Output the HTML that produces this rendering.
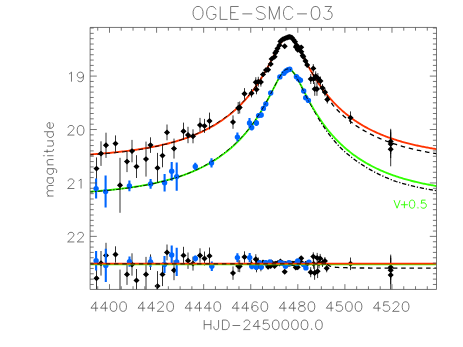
<!DOCTYPE html>
<html><head><meta charset="utf-8"><title>OGLE-SMC-03</title>
<style>html,body{margin:0;padding:0;background:#fff;font-family:"Liberation Sans",sans-serif}svg{display:block}</style>
</head><body>
<svg width="463" height="347" viewBox="0 0 463 347">
<rect width="463" height="347" fill="#fff"/>
<defs><clipPath id="c"><rect x="90.12" y="27.45" width="346.38" height="262.0"/></clipPath></defs>
<g clip-path="url(#c)">
<path d="M89.1 191.76 L90.1 191.68 L91.1 191.61 L92.1 191.53 L93.1 191.45 L94.1 191.37 L95.1 191.29 L96.1 191.21 L97.1 191.13 L98.1 191.05 L99.1 190.96 L100.1 190.88 L101.1 190.79 L102.1 190.70 L103.1 190.61 L104.1 190.52 L105.1 190.42 L106.1 190.33 L107.1 190.23 L108.1 190.13 L109.1 190.03 L110.1 189.93 L111.1 189.83 L112.1 189.72 L113.1 189.62 L114.1 189.51 L115.1 189.40 L116.1 189.29 L117.1 189.17 L118.1 189.06 L119.1 188.94 L120.1 188.82 L121.1 188.70 L122.1 188.57 L123.1 188.45 L124.1 188.32 L125.1 188.19 L126.1 188.06 L127.1 187.93 L128.1 187.79 L129.1 187.65 L130.1 187.51 L131.1 187.37 L132.1 187.22 L133.1 187.07 L134.1 186.92 L135.1 186.77 L136.1 186.61 L137.1 186.46 L138.1 186.29 L139.1 186.13 L140.1 185.96 L141.1 185.80 L142.1 185.62 L143.1 185.45 L144.1 185.27 L145.1 185.09 L146.1 184.90 L147.1 184.72 L148.1 184.53 L149.1 184.33 L150.1 184.13 L151.1 183.93 L152.1 183.73 L153.1 183.52 L154.1 183.31 L155.1 183.09 L156.1 182.88 L157.1 182.65 L158.1 182.43 L159.1 182.20 L160.1 181.96 L161.1 181.72 L162.1 181.48 L163.1 181.23 L164.1 180.98 L165.1 180.73 L166.1 180.47 L167.1 180.20 L168.1 179.93 L169.1 179.66 L170.1 179.38 L171.1 179.09 L172.1 178.80 L173.1 178.51 L174.1 178.21 L175.1 177.91 L176.1 177.60 L177.1 177.28 L178.1 176.96 L179.1 176.63 L180.1 176.30 L181.1 175.96 L182.1 175.61 L183.1 175.26 L184.1 174.91 L185.1 174.54 L186.1 174.17 L187.1 173.79 L188.1 173.41 L189.1 173.02 L190.1 172.62 L191.1 172.22 L192.1 171.80 L193.1 171.38 L194.1 170.96 L195.1 170.52 L196.1 170.08 L197.1 169.62 L198.1 169.16 L199.1 168.70 L200.1 168.22 L201.1 167.73 L202.1 167.24 L203.1 166.73 L204.1 166.22 L205.1 165.70 L206.1 165.16 L207.1 164.62 L208.1 164.07 L209.1 163.50 L210.1 162.93 L211.1 162.34 L212.1 161.75 L213.1 161.14 L214.1 160.52 L215.1 159.89 L216.1 159.25 L217.1 158.59 L218.1 157.92 L219.1 157.24 L220.1 156.55 L221.1 155.84 L222.1 155.12 L223.1 154.38 L224.1 153.63 L225.1 152.87 L226.1 152.09 L227.1 151.29 L228.1 150.48 L229.1 149.65 L230.1 148.81 L231.1 147.95 L232.1 147.07 L233.1 146.17 L234.1 145.26 L235.1 144.32 L236.1 143.37 L237.1 142.40 L238.1 141.40 L239.1 140.39 L240.1 139.35 L241.1 138.30 L242.1 137.21 L243.1 136.11 L244.1 134.98 L245.1 133.83 L246.1 132.65 L247.1 131.45 L248.1 130.22 L249.1 128.97 L250.1 127.68 L251.1 126.37 L252.1 125.03 L253.1 123.65 L254.1 122.25 L255.1 120.82 L256.1 119.35 L257.1 117.85 L258.1 116.32 L259.1 114.75 L260.1 113.15 L261.1 111.51 L262.1 109.84 L263.1 108.14 L264.1 106.40 L265.1 104.62 L266.1 102.81 L267.1 100.97 L268.1 99.10 L269.1 97.20 L270.1 95.28 L271.1 93.34 L272.1 91.38 L273.1 89.41 L274.1 87.44 L275.1 85.48 L276.1 83.54 L277.1 81.64 L278.1 79.79 L279.1 78.00 L280.1 76.31 L281.1 74.74 L282.1 73.30 L283.1 72.03 L284.1 70.94 L285.1 70.07 L286.1 69.43 L287.1 69.05 L288.1 68.92 L289.1 69.05 L290.1 69.45 L291.1 70.09 L292.1 70.96 L293.1 72.05 L294.1 73.33 L295.1 74.77 L296.1 76.35 L297.1 78.04 L298.1 79.83 L299.1 81.68 L300.1 83.59 L301.1 85.52 L302.1 87.48 L303.1 89.45 L304.1 91.42 L305.1 93.38 L306.1 95.32 L307.1 97.25 L308.1 99.15 L309.1 101.02 L310.1 102.86 L311.1 104.66 L312.1 106.44 L313.1 108.18 L314.1 109.88 L315.1 111.55 L316.1 113.19 L317.1 114.79 L318.1 116.35 L319.1 117.88 L320.1 119.38 L321.1 120.85 L322.1 122.28 L323.1 123.68 L324.1 125.06 L325.1 126.40 L326.1 127.71 L327.1 128.99 L328.1 130.25 L329.1 131.48 L330.1 132.68 L331.1 133.86 L332.1 135.01 L333.1 136.14 L334.1 137.24 L335.1 138.32 L336.1 139.38 L337.1 140.41 L338.1 141.43 L339.1 142.42 L340.1 143.39 L341.1 144.35 L342.1 145.28 L343.1 146.19 L344.1 147.09 L345.1 147.97 L346.1 148.83 L347.1 149.67 L348.1 150.50 L349.1 151.31 L350.1 152.11 L351.1 152.89 L352.1 153.65 L353.1 154.40 L354.1 155.14 L355.1 155.86 L356.1 156.56 L357.1 157.26 L358.1 157.94 L359.1 158.61 L360.1 159.26 L361.1 159.90 L362.1 160.53 L363.1 161.15 L364.1 161.76 L365.1 162.36 L366.1 162.94 L367.1 163.52 L368.1 164.08 L369.1 164.63 L370.1 165.17 L371.1 165.71 L372.1 166.23 L373.1 166.74 L374.1 167.25 L375.1 167.74 L376.1 168.23 L377.1 168.71 L378.1 169.17 L379.1 169.63 L380.1 170.09 L381.1 170.53 L382.1 170.97 L383.1 171.39 L384.1 171.81 L385.1 172.23 L386.1 172.63 L387.1 173.03 L388.1 173.42 L389.1 173.80 L390.1 174.18 L391.1 174.55 L392.1 174.91 L393.1 175.27 L394.1 175.62 L395.1 175.97 L396.1 176.31 L397.1 176.64 L398.1 176.97 L399.1 177.29 L400.1 177.60 L401.1 177.91 L402.1 178.22 L403.1 178.52 L404.1 178.81 L405.1 179.10 L406.1 179.38 L407.1 179.66 L408.1 179.94 L409.1 180.21 L410.1 180.47 L411.1 180.73 L412.1 180.99 L413.1 181.24 L414.1 181.49 L415.1 181.73 L416.1 181.97 L417.1 182.20 L418.1 182.43 L419.1 182.66 L420.1 182.88 L421.1 183.10 L422.1 183.31 L423.1 183.53 L424.1 183.73 L425.1 183.94 L426.1 184.14 L427.1 184.34 L428.1 184.53 L429.1 184.72 L430.1 184.91 L431.1 185.09 L432.1 185.27 L433.1 185.45 L434.1 185.63 L435.1 185.80 L436.1 185.97 L437.1 186.13" stroke="#30ff00" stroke-width="1.85" fill="none"/>
<path d="M89.1 154.51 L90.1 154.44 L91.1 154.37 L92.1 154.30 L93.1 154.23 L94.1 154.15 L95.1 154.08 L96.1 154.00 L97.1 153.92 L98.1 153.85 L99.1 153.77 L100.1 153.69 L101.1 153.60 L102.1 153.52 L103.1 153.44 L104.1 153.35 L105.1 153.26 L106.1 153.17 L107.1 153.08 L108.1 152.99 L109.1 152.90 L110.1 152.80 L111.1 152.71 L112.1 152.61 L113.1 152.51 L114.1 152.41 L115.1 152.30 L116.1 152.20 L117.1 152.09 L118.1 151.99 L119.1 151.88 L120.1 151.76 L121.1 151.65 L122.1 151.54 L123.1 151.42 L124.1 151.30 L125.1 151.18 L126.1 151.06 L127.1 150.93 L128.1 150.80 L129.1 150.67 L130.1 150.54 L131.1 150.41 L132.1 150.27 L133.1 150.14 L134.1 149.99 L135.1 149.85 L136.1 149.71 L137.1 149.56 L138.1 149.41 L139.1 149.26 L140.1 149.10 L141.1 148.94 L142.1 148.78 L143.1 148.62 L144.1 148.45 L145.1 148.28 L146.1 148.11 L147.1 147.94 L148.1 147.76 L149.1 147.58 L150.1 147.40 L151.1 147.21 L152.1 147.02 L153.1 146.82 L154.1 146.63 L155.1 146.43 L156.1 146.22 L157.1 146.02 L158.1 145.80 L159.1 145.59 L160.1 145.37 L161.1 145.15 L162.1 144.92 L163.1 144.69 L164.1 144.46 L165.1 144.22 L166.1 143.98 L167.1 143.73 L168.1 143.48 L169.1 143.23 L170.1 142.97 L171.1 142.70 L172.1 142.43 L173.1 142.16 L174.1 141.88 L175.1 141.59 L176.1 141.31 L177.1 141.01 L178.1 140.71 L179.1 140.41 L180.1 140.10 L181.1 139.78 L182.1 139.46 L183.1 139.13 L184.1 138.80 L185.1 138.46 L186.1 138.11 L187.1 137.76 L188.1 137.40 L189.1 137.04 L190.1 136.67 L191.1 136.29 L192.1 135.90 L193.1 135.51 L194.1 135.11 L195.1 134.70 L196.1 134.29 L197.1 133.86 L198.1 133.43 L199.1 133.00 L200.1 132.55 L201.1 132.09 L202.1 131.63 L203.1 131.16 L204.1 130.68 L205.1 130.19 L206.1 129.69 L207.1 129.18 L208.1 128.66 L209.1 128.13 L210.1 127.59 L211.1 127.04 L212.1 126.48 L213.1 125.91 L214.1 125.33 L215.1 124.74 L216.1 124.13 L217.1 123.52 L218.1 122.89 L219.1 122.25 L220.1 121.59 L221.1 120.92 L222.1 120.24 L223.1 119.55 L224.1 118.84 L225.1 118.12 L226.1 117.38 L227.1 116.63 L228.1 115.86 L229.1 115.08 L230.1 114.28 L231.1 113.47 L232.1 112.63 L233.1 111.78 L234.1 110.91 L235.1 110.03 L236.1 109.12 L237.1 108.20 L238.1 107.25 L239.1 106.29 L240.1 105.30 L241.1 104.29 L242.1 103.26 L243.1 102.21 L244.1 101.13 L245.1 100.03 L246.1 98.91 L247.1 97.76 L248.1 96.58 L249.1 95.38 L250.1 94.15 L251.1 92.89 L252.1 91.60 L253.1 90.28 L254.1 88.93 L255.1 87.55 L256.1 86.14 L257.1 84.70 L258.1 83.22 L259.1 81.71 L260.1 80.16 L261.1 78.58 L262.1 76.96 L263.1 75.31 L264.1 73.62 L265.1 71.90 L266.1 70.15 L267.1 68.36 L268.1 66.54 L269.1 64.69 L270.1 62.81 L271.1 60.91 L272.1 59.00 L273.1 57.07 L274.1 55.14 L275.1 53.21 L276.1 51.30 L277.1 49.42 L278.1 47.59 L279.1 45.81 L280.1 44.13 L281.1 42.55 L282.1 41.10 L283.1 39.81 L284.1 38.70 L285.1 37.80 L286.1 37.12 L287.1 36.69 L288.1 36.51 L289.1 36.59 L290.1 36.93 L291.1 37.51 L292.1 38.33 L293.1 39.37 L294.1 40.59 L295.1 41.98 L296.1 43.51 L297.1 45.16 L298.1 46.90 L299.1 48.71 L300.1 50.58 L301.1 52.48 L302.1 54.40 L303.1 56.33 L304.1 58.26 L305.1 60.18 L306.1 62.09 L307.1 63.98 L308.1 65.84 L309.1 67.67 L310.1 69.47 L311.1 71.24 L312.1 72.97 L313.1 74.67 L314.1 76.34 L315.1 77.97 L316.1 79.56 L317.1 81.12 L318.1 82.65 L319.1 84.14 L320.1 85.59 L321.1 87.02 L322.1 88.41 L323.1 89.77 L324.1 91.10 L325.1 92.40 L326.1 93.67 L327.1 94.91 L328.1 96.13 L329.1 97.31 L330.1 98.47 L331.1 99.61 L332.1 100.72 L333.1 101.80 L334.1 102.86 L335.1 103.90 L336.1 104.92 L337.1 105.91 L338.1 106.89 L339.1 107.84 L340.1 108.77 L341.1 109.68 L342.1 110.58 L343.1 111.45 L344.1 112.31 L345.1 113.15 L346.1 113.97 L347.1 114.78 L348.1 115.57 L349.1 116.34 L350.1 117.10 L351.1 117.84 L352.1 118.57 L353.1 119.28 L354.1 119.98 L355.1 120.67 L356.1 121.34 L357.1 122.00 L358.1 122.64 L359.1 123.28 L360.1 123.90 L361.1 124.51 L362.1 125.11 L363.1 125.69 L364.1 126.27 L365.1 126.83 L366.1 127.38 L367.1 127.93 L368.1 128.46 L369.1 128.98 L370.1 129.49 L371.1 130.00 L372.1 130.49 L373.1 130.98 L374.1 131.45 L375.1 131.92 L376.1 132.38 L377.1 132.83 L378.1 133.27 L379.1 133.70 L380.1 134.13 L381.1 134.54 L382.1 134.95 L383.1 135.36 L384.1 135.75 L385.1 136.14 L386.1 136.52 L387.1 136.90 L388.1 137.26 L389.1 137.62 L390.1 137.98 L391.1 138.33 L392.1 138.67 L393.1 139.00 L394.1 139.33 L395.1 139.66 L396.1 139.98 L397.1 140.29 L398.1 140.60 L399.1 140.90 L400.1 141.19 L401.1 141.49 L402.1 141.77 L403.1 142.05 L404.1 142.33 L405.1 142.60 L406.1 142.87 L407.1 143.13 L408.1 143.38 L409.1 143.64 L410.1 143.89 L411.1 144.13 L412.1 144.37 L413.1 144.60 L414.1 144.84 L415.1 145.06 L416.1 145.29 L417.1 145.51 L418.1 145.72 L419.1 145.94 L420.1 146.14 L421.1 146.35 L422.1 146.55 L423.1 146.75 L424.1 146.94 L425.1 147.14 L426.1 147.32 L427.1 147.51 L428.1 147.69 L429.1 147.87 L430.1 148.05 L431.1 148.22 L432.1 148.39 L433.1 148.56 L434.1 148.72 L435.1 148.88 L436.1 149.04 L437.1 149.20" stroke="#ff3300" stroke-width="1.85" fill="none"/>
<path d="M96.50 157.4V179.8M101.00 141.3V165.9M106.00 132.7V157.9M115.50 135.4V151.8M120.00 157.8V212.8M127.00 151.1V172.1M132.00 139.9V162.3M136.50 155.2V178.0M146.00 141.6V176.6M150.50 137.3V152.9M157.50 152.9V182.9M162.50 143.9V167.3M167.00 124.5V140.3M174.00 138.6V158.6M183.50 122.6V139.8M188.00 126.8V143.2M193.00 129.3V143.3M200.00 117.9V132.3M204.50 118.9V132.9M209.50 112.6V129.4M233.00 115.4V128.8M238.20 102.0V114.0M239.70 101.5V113.5M244.50 88.1V99.5M251.50 89.0V97.4M256.50 84.7V94.3M255.80 77.2V87.2M258.30 76.8V86.8M260.90 77.6V86.6M263.00 71.9V76.9M266.00 67.6V72.6M268.10 67.2V72.2M270.70 62.1V66.1M271.60 56.9V60.9M274.60 55.2V58.2M280.40 40.1V43.1M281.20 39.0V42.0M282.60 38.0V41.0M284.20 37.3V40.3M285.70 36.6V39.6M287.20 36.0V39.0M288.50 35.6V38.6M289.40 35.4V38.4M290.70 35.6V38.6M292.00 36.3V39.3M293.50 38.3V41.3M295.00 40.2V43.2M284.70 44.8V47.8M275.20 51.6V54.6M276.30 49.8V52.8M277.50 46.9V49.9M279.50 43.7V46.7M295.80 45.4V48.4M296.60 43.8V46.8M297.70 48.4V51.4M299.20 46.4V49.4M301.20 45.8V48.8M301.30 50.3V53.3M302.70 54.0V57.0M303.30 54.7V58.7M305.50 58.5V63.5M307.20 61.9V67.9M313.30 64.1V72.7M310.75 74.0V84.0M313.50 74.0V84.0M315.70 71.3V81.3M317.85 73.1V83.1M320.45 76.5V85.5M314.75 82.2V95.8M316.95 82.2V95.8M322.50 84.0V92.0M325.00 88.3V96.3M327.30 95.5V103.5M350.50 111.4V124.0M390.70 128.8V154.0M390.70 130.1V158.1M390.70 132.3V166.3" stroke="#000" stroke-width="0.8" fill="none"/>
<path d="M93.45 168.60L96.50 165.65L99.55 168.60L96.50 171.55ZM97.95 153.60L101.00 150.65L104.05 153.60L101.00 156.55ZM102.95 145.30L106.00 142.35L109.05 145.30L106.00 148.25ZM112.45 143.60L115.50 140.65L118.55 143.60L115.50 146.55ZM116.95 185.30L120.00 182.35L123.05 185.30L120.00 188.25ZM123.95 161.60L127.00 158.65L130.05 161.60L127.00 164.55ZM128.95 151.10L132.00 148.15L135.05 151.10L132.00 154.05ZM133.45 166.60L136.50 163.65L139.55 166.60L136.50 169.55ZM142.95 159.10L146.00 156.15L149.05 159.10L146.00 162.05ZM147.45 145.10L150.50 142.15L153.55 145.10L150.50 148.05ZM154.45 167.90L157.50 164.95L160.55 167.90L157.50 170.85ZM159.45 155.60L162.50 152.65L165.55 155.60L162.50 158.55ZM163.95 132.40L167.00 129.45L170.05 132.40L167.00 135.35ZM170.95 148.60L174.00 145.65L177.05 148.60L174.00 151.55ZM180.45 131.20L183.50 128.25L186.55 131.20L183.50 134.15ZM184.95 135.00L188.00 132.05L191.05 135.00L188.00 137.95ZM189.95 136.30L193.00 133.35L196.05 136.30L193.00 139.25ZM196.95 125.10L200.00 122.15L203.05 125.10L200.00 128.05ZM201.45 125.90L204.50 122.95L207.55 125.90L204.50 128.85ZM206.45 121.00L209.50 118.05L212.55 121.00L209.50 123.95ZM229.95 122.10L233.00 119.15L236.05 122.10L233.00 125.05ZM235.15 108.00L238.20 105.05L241.25 108.00L238.20 110.95ZM236.65 107.50L239.70 104.55L242.75 107.50L239.70 110.45ZM241.45 93.80L244.50 90.85L247.55 93.80L244.50 96.75ZM248.45 93.20L251.50 90.25L254.55 93.20L251.50 96.15ZM253.45 89.50L256.50 86.55L259.55 89.50L256.50 92.45ZM252.75 82.20L255.80 79.25L258.85 82.20L255.80 85.15ZM255.25 81.80L258.30 78.85L261.35 81.80L258.30 84.75ZM257.85 82.10L260.90 79.15L263.95 82.10L260.90 85.05ZM259.95 74.40L263.00 71.45L266.05 74.40L263.00 77.35ZM262.95 70.10L266.00 67.15L269.05 70.10L266.00 73.05ZM265.05 69.70L268.10 66.75L271.15 69.70L268.10 72.65ZM267.65 64.10L270.70 61.15L273.75 64.10L270.70 67.05ZM268.55 58.90L271.60 55.95L274.65 58.90L271.60 61.85ZM271.55 56.70L274.60 53.75L277.65 56.70L274.60 59.65ZM277.35 41.60L280.40 38.65L283.45 41.60L280.40 44.55ZM278.15 40.50L281.20 37.55L284.25 40.50L281.20 43.45ZM279.55 39.50L282.60 36.55L285.65 39.50L282.60 42.45ZM281.15 38.80L284.20 35.85L287.25 38.80L284.20 41.75ZM282.65 38.10L285.70 35.15L288.75 38.10L285.70 41.05ZM284.15 37.50L287.20 34.55L290.25 37.50L287.20 40.45ZM285.45 37.10L288.50 34.15L291.55 37.10L288.50 40.05ZM286.35 36.90L289.40 33.95L292.45 36.90L289.40 39.85ZM287.65 37.10L290.70 34.15L293.75 37.10L290.70 40.05ZM288.95 37.80L292.00 34.85L295.05 37.80L292.00 40.75ZM290.45 39.80L293.50 36.85L296.55 39.80L293.50 42.75ZM291.95 41.70L295.00 38.75L298.05 41.70L295.00 44.65ZM281.65 46.30L284.70 43.35L287.75 46.30L284.70 49.25ZM272.15 53.06L275.20 50.11L278.25 53.06L275.20 56.01ZM273.25 51.26L276.30 48.31L279.35 51.26L276.30 54.21ZM274.45 48.42L277.50 45.47L280.55 48.42L277.50 51.37ZM276.45 45.16L279.50 42.21L282.55 45.16L279.50 48.11ZM292.75 46.91L295.80 43.96L298.85 46.91L295.80 49.86ZM293.55 45.29L296.60 42.34L299.65 45.29L296.60 48.24ZM294.65 49.86L297.70 46.91L300.75 49.86L297.70 52.81ZM296.15 47.86L299.20 44.91L302.25 47.86L299.20 50.81ZM298.15 47.33L301.20 44.38L304.25 47.33L301.20 50.28ZM298.25 51.82L301.30 48.87L304.35 51.82L301.30 54.77ZM299.65 55.52L302.70 52.57L305.75 55.52L302.70 58.47ZM300.25 56.70L303.30 53.75L306.35 56.70L303.30 59.65ZM302.45 61.00L305.50 58.05L308.55 61.00L305.50 63.95ZM304.15 64.90L307.20 61.95L310.25 64.90L307.20 67.85ZM310.25 68.40L313.30 65.45L316.35 68.40L313.30 71.35ZM307.70 79.00L310.75 76.05L313.80 79.00L310.75 81.95ZM310.45 79.00L313.50 76.05L316.55 79.00L313.50 81.95ZM312.65 76.30L315.70 73.35L318.75 76.30L315.70 79.25ZM314.80 78.10L317.85 75.15L320.90 78.10L317.85 81.05ZM317.40 81.00L320.45 78.05L323.50 81.00L320.45 83.95ZM311.70 89.05L314.75 86.10L317.80 89.05L314.75 92.00ZM313.90 89.05L316.95 86.10L320.00 89.05L316.95 92.00ZM319.45 88.00L322.50 85.05L325.55 88.00L322.50 90.95ZM321.95 92.30L325.00 89.35L328.05 92.30L325.00 95.25ZM324.25 99.50L327.30 96.55L330.35 99.50L327.30 102.45ZM347.45 117.70L350.50 114.75L353.55 117.70L350.50 120.65ZM387.65 141.40L390.70 138.45L393.75 141.40L390.70 144.35ZM387.65 144.10L390.70 141.15L393.75 144.10L390.70 147.05ZM387.65 149.30L390.70 146.35L393.75 149.30L390.70 152.25Z" fill="#000"/>
<path d="M96.10 178.6V198.6M105.60 175.6V207.6M129.40 180.6V191.2M150.60 179.1V188.7M164.60 174.1V191.5M171.70 161.9V180.7M176.70 162.5V190.7M195.30 162.7V170.1M211.50 158.3V167.5M237.40 132.6V141.6M249.50 118.1V127.7M251.70 124.4V130.4M256.40 119.9V125.9M258.60 113.1V118.1M261.20 112.5V117.5M263.40 105.9V110.9M265.80 101.4V106.4M270.70 91.0V95.0M279.85 75.4V78.4M283.90 71.7V74.7M286.00 69.5V72.5M288.10 68.3V71.3M289.80 67.8V70.8M296.40 75.3V78.3M298.50 77.4V80.4M300.40 78.7V81.7M303.70 89.0V93.0M305.70 95.8V99.8M308.40 98.4V102.4" stroke="#0066ff" stroke-width="2.1" fill="none"/>
<circle cx="96.10" cy="188.60" r="2.7" fill="#0066ff"/><circle cx="105.60" cy="191.60" r="2.7" fill="#0066ff"/><circle cx="129.40" cy="185.90" r="2.7" fill="#0066ff"/><circle cx="150.60" cy="183.90" r="2.7" fill="#0066ff"/><circle cx="164.60" cy="182.80" r="2.7" fill="#0066ff"/><circle cx="171.70" cy="171.30" r="2.7" fill="#0066ff"/><circle cx="176.70" cy="176.60" r="2.7" fill="#0066ff"/><circle cx="195.30" cy="166.40" r="2.7" fill="#0066ff"/><circle cx="211.50" cy="162.90" r="2.7" fill="#0066ff"/><circle cx="237.40" cy="137.10" r="2.7" fill="#0066ff"/><circle cx="249.50" cy="122.90" r="2.7" fill="#0066ff"/><circle cx="251.70" cy="127.40" r="2.7" fill="#0066ff"/><circle cx="256.40" cy="122.90" r="2.7" fill="#0066ff"/><circle cx="258.60" cy="115.60" r="2.7" fill="#0066ff"/><circle cx="261.20" cy="115.00" r="2.7" fill="#0066ff"/><circle cx="263.40" cy="108.40" r="2.7" fill="#0066ff"/><circle cx="265.80" cy="103.90" r="2.7" fill="#0066ff"/><circle cx="270.70" cy="93.00" r="2.7" fill="#0066ff"/><circle cx="279.85" cy="76.90" r="2.7" fill="#0066ff"/><circle cx="283.90" cy="73.20" r="2.7" fill="#0066ff"/><circle cx="286.00" cy="71.00" r="2.7" fill="#0066ff"/><circle cx="288.10" cy="69.80" r="2.7" fill="#0066ff"/><circle cx="289.80" cy="69.30" r="2.7" fill="#0066ff"/><circle cx="296.40" cy="76.80" r="2.7" fill="#0066ff"/><circle cx="298.50" cy="78.90" r="2.7" fill="#0066ff"/><circle cx="300.40" cy="80.20" r="2.7" fill="#0066ff"/><circle cx="303.70" cy="91.00" r="2.7" fill="#0066ff"/><circle cx="305.70" cy="97.80" r="2.7" fill="#0066ff"/><circle cx="308.40" cy="100.40" r="2.7" fill="#0066ff"/>
<path d="M89.1 192.06 L90.1 191.98 L91.1 191.90 L92.1 191.83 L93.1 191.75 L94.1 191.67 L95.1 191.59 L96.1 191.50 L97.1 191.42 L98.1 191.33 L99.1 191.25 L100.1 191.16 L101.1 191.07 L102.1 190.98 L103.1 190.89 L104.1 190.79 L105.1 190.70 L106.1 190.60 L107.1 190.50 L108.1 190.40 L109.1 190.30 L110.1 190.20 L111.1 190.09 L112.1 189.99 L113.1 189.88 L114.1 189.77 L115.1 189.66 L116.1 189.54 L117.1 189.43 L118.1 189.31 L119.1 189.19 L120.1 189.07 L121.1 188.95 L122.1 188.82 L123.1 188.69 L124.1 188.57 L125.1 188.43 L126.1 188.30 L127.1 188.16 L128.1 188.03 L129.1 187.89 L130.1 187.74 L131.1 187.60 L132.1 187.45 L133.1 187.30 L134.1 187.15 L135.1 186.99 L136.1 186.84 L137.1 186.68 L138.1 186.51 L139.1 186.35 L140.1 186.18 L141.1 186.01 L142.1 185.84 L143.1 185.66 L144.1 185.48 L145.1 185.30 L146.1 185.11 L147.1 184.92 L148.1 184.73 L149.1 184.53 L150.1 184.33 L151.1 184.13 L152.1 183.92 L153.1 183.71 L154.1 183.49 L155.1 183.27 L156.1 183.04 L157.1 182.82 L158.1 182.59 L159.1 182.35 L160.1 182.11 L161.1 181.87 L162.1 181.62 L163.1 181.37 L164.1 181.11 L165.1 180.85 L166.1 180.58 L167.1 180.31 L168.1 180.04 L169.1 179.76 L170.1 179.48 L171.1 179.19 L172.1 178.89 L173.1 178.59 L174.1 178.29 L175.1 177.98 L176.1 177.67 L177.1 177.34 L178.1 177.02 L179.1 176.69 L180.1 176.35 L181.1 176.00 L182.1 175.65 L183.1 175.30 L184.1 174.94 L185.1 174.57 L186.1 174.19 L187.1 173.81 L188.1 173.42 L189.1 173.02 L190.1 172.62 L191.1 172.19 L192.1 171.76 L193.1 171.32 L194.1 170.87 L195.1 170.42 L196.1 169.95 L197.1 169.48 L198.1 169.00 L199.1 168.51 L200.1 168.02 L201.1 167.51 L202.1 166.99 L203.1 166.47 L204.1 165.94 L205.1 165.39 L206.1 164.84 L207.1 164.28 L208.1 163.70 L209.1 163.12 L210.1 162.53 L211.1 161.92 L212.1 161.30 L213.1 160.68 L214.1 160.04 L215.1 159.39 L216.1 158.72 L217.1 158.05 L218.1 157.36 L219.1 156.66 L220.1 155.95 L221.1 155.22 L222.1 154.48 L223.1 153.72 L224.1 152.95 L225.1 152.17 L226.1 151.40 L227.1 150.61 L228.1 149.81 L229.1 148.99 L230.1 148.15 L231.1 147.30 L232.1 146.42 L233.1 145.53 L234.1 144.63 L235.1 143.70 L236.1 142.75 L237.1 141.79 L238.1 140.80 L239.1 139.80 L240.1 138.77 L241.1 137.72 L242.1 136.64 L243.1 135.55 L244.1 134.43 L245.1 133.28 L246.1 132.11 L247.1 130.92 L248.1 129.70 L249.1 128.45 L250.1 127.17 L251.1 125.86 L252.1 124.53 L253.1 123.16 L254.1 121.77 L255.1 120.34 L256.1 118.88 L257.1 117.39 L258.1 115.87 L259.1 114.31 L260.1 112.71 L261.1 111.08 L262.1 109.42 L263.1 107.72 L264.1 105.99 L265.1 104.22 L266.1 102.43 L267.1 100.61 L268.1 98.76 L269.1 96.88 L270.1 94.97 L271.1 93.04 L272.1 91.10 L273.1 89.15 L274.1 87.20 L275.1 85.26 L276.1 83.34 L277.1 81.45 L278.1 79.61 L279.1 77.85 L280.1 76.18 L281.1 74.62 L282.1 73.20 L283.1 71.94 L284.1 70.87 L285.1 70.02 L286.1 69.40 L287.1 69.03 L288.1 68.92 L289.1 69.08 L290.1 69.50 L291.1 70.17 L292.1 71.07 L293.1 72.18 L294.1 73.48 L295.1 74.95 L296.1 76.56 L297.1 78.32 L298.1 80.17 L299.1 82.09 L300.1 84.06 L301.1 86.07 L302.1 88.09 L303.1 90.13 L304.1 92.16 L305.1 94.19 L306.1 96.18 L307.1 98.15 L308.1 100.10 L309.1 102.02 L310.1 103.91 L311.1 105.77 L312.1 107.59 L313.1 109.38 L314.1 111.14 L315.1 112.86 L316.1 114.57 L317.1 116.24" stroke="#000" stroke-width="0.95" stroke-dasharray="4.3 1.8 1.2 1.8" fill="none"/>
<path d="M318.1 117.88 L319.1 119.48 L320.1 121.05 L321.1 122.59 L322.1 124.10 L323.1 125.65 L324.1 127.17 L325.1 128.67 L326.1 130.13 L327.1 131.56 L328.1 132.97 L329.1 134.35 L330.1 135.69 L331.1 136.96 L332.1 138.20 L333.1 139.42 L334.1 140.61 L335.1 141.78 L336.1 142.93 L337.1 144.05 L338.1 145.16 L339.1 146.24 L340.1 147.29 L341.1 148.26 L342.1 149.21 L343.1 150.14 L344.1 151.05 L345.1 151.95 L346.1 152.82 L347.1 153.68 L348.1 154.53 L349.1 155.35 L350.1 156.16 L351.1 156.96 L352.1 157.74 L353.1 158.50 L354.1 159.25 L355.1 159.99 L356.1 160.71 L357.1 161.42 L358.1 162.12 L359.1 162.80 L360.1 163.47 L361.1 164.13 L362.1 164.77 L363.1 165.41 L364.1 166.03 L365.1 166.64 L366.1 167.25 L367.1 167.85 L368.1 168.44 L369.1 169.03 L370.1 169.60 L371.1 170.16 L372.1 170.71 L373.1 171.26 L374.1 171.79 L375.1 172.32 L376.1 172.83 L377.1 173.34 L378.1 173.84 L379.1 174.33 L380.1 174.81 L381.1 175.28 L382.1 175.75 L383.1 176.21 L384.1 176.66 L385.1 177.10 L386.1 177.53 L387.1 177.96 L388.1 178.38 L389.1 178.80 L390.1 179.20 L391.1 179.60 L392.1 180.00 L393.1 180.39 L394.1 180.77 L395.1 181.14 L396.1 181.50 L397.1 181.82 L398.1 182.13 L399.1 182.44 L400.1 182.73 L401.1 183.03 L402.1 183.32 L403.1 183.60 L404.1 183.88 L405.1 184.15 L406.1 184.42 L407.1 184.68 L408.1 184.94 L409.1 185.19 L410.1 185.44 L411.1 185.68 L412.1 185.92 L413.1 186.15 L414.1 186.38 L415.1 186.61 L416.1 186.83 L417.1 187.05 L418.1 187.26 L419.1 187.47 L420.1 187.68 L421.1 187.89 L422.1 188.09 L423.1 188.29 L424.1 188.48 L425.1 188.68 L426.1 188.87 L427.1 189.05 L428.1 189.23 L429.1 189.41 L430.1 189.59 L431.1 189.76 L432.1 189.93 L433.1 190.10 L434.1 190.26 L435.1 190.42 L436.1 190.58 L437.1 190.73" stroke="#000" stroke-width="1.3" stroke-dasharray="4.3 1.8 1.2 1.8" fill="none"/>
<path d="M89.1 155.01 L90.1 154.94 L91.1 154.87 L92.1 154.79 L93.1 154.72 L94.1 154.64 L95.1 154.57 L96.1 154.49 L97.1 154.41 L98.1 154.33 L99.1 154.25 L100.1 154.17 L101.1 154.08 L102.1 154.00 L103.1 153.91 L104.1 153.82 L105.1 153.73 L106.1 153.64 L107.1 153.55 L108.1 153.45 L109.1 153.36 L110.1 153.26 L111.1 153.16 L112.1 153.06 L113.1 152.96 L114.1 152.86 L115.1 152.75 L116.1 152.65 L117.1 152.54 L118.1 152.43 L119.1 152.32 L120.1 152.20 L121.1 152.09 L122.1 151.97 L123.1 151.85 L124.1 151.73 L125.1 151.61 L126.1 151.48 L127.1 151.36 L128.1 151.23 L129.1 151.10 L130.1 150.96 L131.1 150.83 L132.1 150.69 L133.1 150.55 L134.1 150.41 L135.1 150.26 L136.1 150.11 L137.1 149.96 L138.1 149.81 L139.1 149.66 L140.1 149.50 L141.1 149.33 L142.1 149.16 L143.1 148.99 L144.1 148.81 L145.1 148.63 L146.1 148.45 L147.1 148.27 L148.1 148.08 L149.1 147.89 L150.1 147.69 L151.1 147.50 L152.1 147.30 L153.1 147.09 L154.1 146.89 L155.1 146.68 L156.1 146.46 L157.1 146.24 L158.1 146.02 L159.1 145.80 L160.1 145.57 L161.1 145.34 L162.1 145.10 L163.1 144.86 L164.1 144.62 L165.1 144.37 L166.1 144.12 L167.1 143.86 L168.1 143.60 L169.1 143.33 L170.1 143.06 L171.1 142.79 L172.1 142.51 L173.1 142.23 L174.1 141.94 L175.1 141.64 L176.1 141.34 L177.1 141.04 L178.1 140.73 L179.1 140.42 L180.1 140.09 L181.1 139.76 L182.1 139.42 L183.1 139.08 L184.1 138.73 L185.1 138.37 L186.1 138.01 L187.1 137.64 L188.1 137.26 L189.1 136.88 L190.1 136.49 L191.1 136.09 L192.1 135.69 L193.1 135.28 L194.1 134.86 L195.1 134.44 L196.1 134.00 L197.1 133.56 L198.1 133.12 L199.1 132.66 L200.1 132.20 L201.1 131.72 L202.1 131.24 L203.1 130.75 L204.1 130.25 L205.1 129.75 L206.1 129.23 L207.1 128.70 L208.1 128.17 L209.1 127.62 L210.1 127.06 L211.1 126.50 L212.1 125.92 L213.1 125.33 L214.1 124.73 L215.1 124.12 L216.1 123.50 L217.1 122.87 L218.1 122.22 L219.1 121.56 L220.1 120.89 L221.1 120.23 L222.1 119.55 L223.1 118.87 L224.1 118.16 L225.1 117.45 L226.1 116.71 L227.1 115.97 L228.1 115.20 L229.1 114.43 L230.1 113.63 L231.1 112.82 L232.1 111.99 L233.1 111.15 L234.1 110.28 L235.1 109.40 L236.1 108.50 L237.1 107.58 L238.1 106.64 L239.1 105.68 L240.1 104.70 L241.1 103.70 L242.1 102.67 L243.1 101.62 L244.1 100.55 L245.1 99.46 L246.1 98.34 L247.1 97.19 L248.1 96.02 L249.1 94.82 L250.1 93.60 L251.1 92.34 L252.1 91.06 L253.1 89.75 L254.1 88.40 L255.1 87.03 L256.1 85.62 L257.1 84.18 L258.1 82.71 L259.1 81.20 L260.1 79.66 L261.1 78.10 L262.1 76.50 L263.1 74.87 L264.1 73.21 L265.1 71.50 L266.1 69.77 L267.1 68.00 L268.1 66.20 L269.1 64.37 L270.1 62.51 L271.1 60.63 L272.1 58.74 L273.1 56.83 L274.1 54.92 L275.1 53.01 L276.1 51.12 L277.1 49.26 L278.1 47.45 L279.1 45.70 L280.1 44.03 L281.1 42.47 L282.1 41.04 L283.1 39.77 L284.1 38.68 L285.1 37.80 L286.1 37.12 L287.1 36.69 L288.1 36.51 L289.1 36.59 L290.1 36.93 L291.1 37.51 L292.1 38.33 L293.1 39.37 L294.1 40.59 L295.1 41.98 L296.1 43.51 L297.1 45.16 L298.1 46.90 L299.1 48.71 L300.1 50.58 L301.1 52.48 L302.1 54.40 L303.1 56.33 L304.1 58.26 L305.1 60.18 L306.1 62.09 L307.1 63.98 L308.1 65.84 L309.1 67.67 L310.1 69.47 L311.1 71.24 L312.1 72.97 L313.1 74.67 L314.1 76.34 L315.1 77.97 L316.1 79.56 L317.1 81.12 L318.1 82.65 L319.1 84.14 L320.1 85.59 L321.1 87.02 L322.1 88.41 L323.1 89.77 L324.1 91.13 L325.1 92.70 L326.1 94.24" stroke="#000" stroke-width="0.95" stroke-dasharray="4.5 3.8" fill="none"/>
<path d="M327.1 95.78 L328.1 97.56 L329.1 99.31 L330.1 101.01 L331.1 102.48 L332.1 103.92 L333.1 105.31 L334.1 106.44 L335.1 107.55 L336.1 108.64 L337.1 109.71 L338.1 110.75 L339.1 111.78 L340.1 112.77 L341.1 113.71 L342.1 114.62 L343.1 115.52 L344.1 116.39 L345.1 117.25 L346.1 118.10 L347.1 118.92 L348.1 119.73 L349.1 120.52 L350.1 121.30 L351.1 122.06 L352.1 122.81 L353.1 123.54 L354.1 124.26 L355.1 124.97 L356.1 125.66 L357.1 126.34 L358.1 127.01 L359.1 127.66 L360.1 128.30 L361.1 128.91 L362.1 129.51 L363.1 130.10 L364.1 130.68 L365.1 131.24 L366.1 131.80 L367.1 132.34 L368.1 132.88 L369.1 133.41 L370.1 133.92 L371.1 134.43 L372.1 134.92 L373.1 135.41 L374.1 135.89 L375.1 136.36 L376.1 136.82 L377.1 137.27 L378.1 137.72 L379.1 138.15 L380.1 138.58 L381.1 139.00 L382.1 139.41 L383.1 139.82 L384.1 140.22 L385.1 140.61 L386.1 140.99 L387.1 141.37 L388.1 141.74 L389.1 142.10 L390.1 142.46 L391.1 142.81 L392.1 143.15 L393.1 143.49 L394.1 143.82 L395.1 144.15 L396.1 144.47 L397.1 144.79 L398.1 145.10 L399.1 145.40 L400.1 145.70 L401.1 145.99 L402.1 146.28 L403.1 146.56 L404.1 146.84 L405.1 147.12 L406.1 147.39 L407.1 147.65 L408.1 147.91 L409.1 148.16 L410.1 148.42 L411.1 148.66 L412.1 148.90 L413.1 149.14 L414.1 149.38 L415.1 149.61 L416.1 149.83 L417.1 150.06 L418.1 150.27 L419.1 150.49 L420.1 150.70 L421.1 150.91 L422.1 151.11 L423.1 151.31 L424.1 151.51 L425.1 151.71 L426.1 151.90 L427.1 152.08 L428.1 152.27 L429.1 152.45 L430.1 152.63 L431.1 152.80 L432.1 152.98 L433.1 153.15 L434.1 153.31 L435.1 153.48 L436.1 153.64 L437.1 153.80" stroke="#000" stroke-width="1.3" stroke-dasharray="4.5 3.8" fill="none"/>
<path d="M96.50 267.1V289.5M101.00 251.0V275.6M106.00 242.8V268.0M115.50 246.3V262.7M120.00 269.6V324.6M127.00 263.9V284.9M132.00 253.3V275.7M136.50 269.0V291.8M146.00 256.9V291.9M150.50 254.4V270.0M157.50 271.1V301.1M162.50 262.7V286.1M167.00 244.5V260.3M174.00 260.2V280.2M183.50 246.8V264.0M188.00 252.5V268.9M193.00 256.6V270.6M200.00 248.3V262.7M204.50 251.5V265.5M209.50 247.5V264.3M233.00 266.4V279.8M238.20 260.0V272.0M239.70 260.2V272.2M244.50 251.3V262.7M251.50 260.2V268.6M256.50 262.7V272.3M255.80 254.2V264.2M258.30 257.5V267.5M260.90 262.3V271.3M263.00 260.0V265.0M266.00 260.8V265.8M268.10 264.2V269.2M270.70 264.0V268.0M271.60 260.5V264.5M274.60 264.6V267.6M280.40 260.0V263.0M281.20 261.1V264.1M282.60 261.6V264.6M284.20 262.2V265.2M285.70 262.5V265.5M287.20 262.5V265.5M288.50 262.4V265.4M289.40 262.2V265.2M290.70 262.0V265.0M292.00 261.9V264.9M293.50 262.1V265.1M295.00 262.0V265.0M284.70 270.2V273.2M275.20 262.1V265.1M276.30 262.4V265.4M277.50 261.8V264.8M279.50 262.1V265.1M295.80 266.0V269.0M296.60 263.1V266.1M297.70 265.8V268.8M299.20 261.1V264.1M301.20 256.8V259.8M301.30 261.1V264.1M302.70 262.1V265.1M303.30 262.5V266.5M305.50 261.5V266.5M307.20 260.7V266.7M313.30 252.3V260.9M310.70 267.2V277.2M313.60 258.8V268.8M317.20 252.9V262.9M319.00 258.3V268.3M320.20 253.9V262.9M314.60 266.2V279.8M317.60 264.5V278.1M322.50 259.0V267.0M324.90 257.0V265.0M326.70 264.3V272.3M350.50 257.5V270.1M390.70 254.6V279.8M390.70 256.2V284.2M390.70 258.0V292.0" stroke="#000" stroke-width="0.8" fill="none"/>
<path d="M93.45 278.30L96.50 275.35L99.55 278.30L96.50 281.25ZM97.95 263.30L101.00 260.35L104.05 263.30L101.00 266.25ZM102.95 255.40L106.00 252.45L109.05 255.40L106.00 258.35ZM112.45 254.50L115.50 251.55L118.55 254.50L115.50 257.45ZM116.95 297.12L120.00 294.17L123.05 297.12L120.00 300.07ZM123.95 274.40L127.00 271.45L130.05 274.40L127.00 277.35ZM128.95 264.50L132.00 261.55L135.05 264.50L132.00 267.45ZM133.45 280.40L136.50 277.45L139.55 280.40L136.50 283.35ZM142.95 274.40L146.00 271.45L149.05 274.40L146.00 277.35ZM147.45 262.20L150.50 259.25L153.55 262.20L150.50 265.15ZM154.45 286.10L157.50 283.15L160.55 286.10L157.50 289.05ZM159.45 274.40L162.50 271.45L165.55 274.40L162.50 277.35ZM163.95 252.40L167.00 249.45L170.05 252.40L167.00 255.35ZM170.95 270.20L174.00 267.25L177.05 270.20L174.00 273.15ZM180.45 255.40L183.50 252.45L186.55 255.40L183.50 258.35ZM184.95 260.70L188.00 257.75L191.05 260.70L188.00 263.65ZM189.95 263.60L193.00 260.65L196.05 263.60L193.00 266.55ZM196.95 255.50L200.00 252.55L203.05 255.50L200.00 258.45ZM201.45 258.50L204.50 255.55L207.55 258.50L204.50 261.45ZM206.45 255.90L209.50 252.95L212.55 255.90L209.50 258.85ZM229.95 273.10L233.00 270.15L236.05 273.10L233.00 276.05ZM235.15 266.00L238.20 263.05L241.25 266.00L238.20 268.95ZM236.65 266.20L239.70 263.25L242.75 266.20L239.70 269.15ZM241.45 257.00L244.50 254.05L247.55 257.00L244.50 259.95ZM248.45 264.40L251.50 261.45L254.55 264.40L251.50 267.35ZM253.45 267.50L256.50 264.55L259.55 267.50L256.50 270.45ZM252.75 259.20L255.80 256.25L258.85 259.20L255.80 262.15ZM255.25 262.45L258.30 259.50L261.35 262.45L258.30 265.40ZM257.85 266.77L260.90 263.82L263.95 266.77L260.90 269.72ZM259.95 262.49L263.00 259.54L266.05 262.49L263.00 265.44ZM262.95 263.34L266.00 260.39L269.05 263.34L266.00 266.29ZM265.05 266.73L268.10 263.78L271.15 266.73L268.10 269.68ZM267.65 265.99L270.70 263.04L273.75 265.99L270.70 268.94ZM268.55 262.51L271.60 259.56L274.65 262.51L271.60 265.46ZM271.55 266.09L274.60 263.14L277.65 266.09L274.60 269.04ZM277.35 261.52L280.40 258.57L283.45 261.52L280.40 264.47ZM278.15 262.64L281.20 259.69L284.25 262.64L281.20 265.59ZM279.55 263.12L282.60 260.17L285.65 263.12L282.60 266.07ZM281.15 263.69L284.20 260.74L287.25 263.69L284.20 266.64ZM282.65 263.96L285.70 261.01L288.75 263.96L285.70 266.91ZM284.15 264.02L287.20 261.07L290.25 264.02L287.20 266.97ZM285.45 263.90L288.50 260.95L291.55 263.90L288.50 266.85ZM286.35 263.72L289.40 260.77L292.45 263.72L289.40 266.67ZM287.65 263.53L290.70 260.58L293.75 263.53L290.70 266.48ZM288.95 263.39L292.00 260.44L295.05 263.39L292.00 266.34ZM290.45 263.60L293.50 260.65L296.55 263.60L293.50 266.55ZM291.95 263.55L295.00 260.60L298.05 263.55L295.00 266.50ZM281.65 271.75L284.70 268.80L287.75 271.75L284.70 274.70ZM272.15 263.60L275.20 260.65L278.25 263.60L275.20 266.55ZM273.25 263.90L276.30 260.95L279.35 263.90L276.30 266.85ZM274.45 263.30L277.50 260.35L280.55 263.30L277.50 266.25ZM276.45 263.60L279.50 260.65L282.55 263.60L279.50 266.55ZM292.75 267.50L295.80 264.55L298.85 267.50L295.80 270.45ZM293.55 264.60L296.60 261.65L299.65 264.60L296.60 267.55ZM294.65 267.30L297.70 264.35L300.75 267.30L297.70 270.25ZM296.15 262.60L299.20 259.65L302.25 262.60L299.20 265.55ZM298.15 258.30L301.20 255.35L304.25 258.30L301.20 261.25ZM298.25 262.60L301.30 259.65L304.35 262.60L301.30 265.55ZM299.65 263.60L302.70 260.65L305.75 263.60L302.70 266.55ZM300.25 264.50L303.30 261.55L306.35 264.50L303.30 267.45ZM302.45 264.00L305.50 261.05L308.55 264.00L305.50 266.95ZM304.15 263.70L307.20 260.75L310.25 263.70L307.20 266.65ZM310.25 256.60L313.30 253.65L316.35 256.60L313.30 259.55ZM307.65 272.20L310.70 269.25L313.75 272.20L310.70 275.15ZM310.55 263.80L313.60 260.85L316.65 263.80L313.60 266.75ZM314.15 257.90L317.20 254.95L320.25 257.90L317.20 260.85ZM315.95 263.30L319.00 260.35L322.05 263.30L319.00 266.25ZM317.15 258.40L320.20 255.45L323.25 258.40L320.20 261.35ZM311.55 273.00L314.60 270.05L317.65 273.00L314.60 275.95ZM314.55 271.30L317.60 268.35L320.65 271.30L317.60 274.25ZM319.45 263.00L322.50 260.05L325.55 263.00L322.50 265.95ZM321.85 261.00L324.90 258.05L327.95 261.00L324.90 263.95ZM323.65 268.30L326.70 265.35L329.75 268.30L326.70 271.25ZM347.45 263.80L350.50 260.85L353.55 263.80L350.50 266.75ZM387.65 267.20L390.70 264.25L393.75 267.20L390.70 270.15ZM387.65 270.20L390.70 267.25L393.75 270.20L390.70 273.15ZM387.65 275.00L390.70 272.05L393.75 275.00L390.70 277.95Z" fill="#000"/>
<path d="M96.10 251.0V270.4M105.80 248.8V282.0M129.50 256.4V266.8M150.50 256.7V267.1M164.50 255.9V273.1M171.70 245.5V264.5M176.70 247.7V276.1M195.40 255.5V261.5M211.80 261.5V270.9M237.40 253.3V261.9M249.70 252.9V262.3M251.80 263.2V269.2M256.10 264.1V270.1M259.60 260.3V265.3M261.30 264.6V269.6M265.60 260.3V265.3M269.90 259.9V263.9M280.30 261.3V264.3M283.30 262.0V265.0M285.50 264.7V267.7M288.90 261.3V264.3M289.60 262.0V265.0M296.80 262.0V265.0M297.70 259.5V262.5M303.60 262.5V266.5M305.90 265.9V269.9M309.00 260.3V264.3" stroke="#0066ff" stroke-width="2.1" fill="none"/>
<circle cx="96.10" cy="260.70" r="2.7" fill="#0066ff"/><circle cx="105.80" cy="265.40" r="2.7" fill="#0066ff"/><circle cx="129.50" cy="261.60" r="2.7" fill="#0066ff"/><circle cx="150.50" cy="261.90" r="2.7" fill="#0066ff"/><circle cx="164.50" cy="264.50" r="2.7" fill="#0066ff"/><circle cx="171.70" cy="255.00" r="2.7" fill="#0066ff"/><circle cx="176.70" cy="261.90" r="2.7" fill="#0066ff"/><circle cx="195.40" cy="258.50" r="2.7" fill="#0066ff"/><circle cx="211.80" cy="266.20" r="2.7" fill="#0066ff"/><circle cx="237.40" cy="257.60" r="2.7" fill="#0066ff"/><circle cx="249.70" cy="257.60" r="2.7" fill="#0066ff"/><circle cx="251.80" cy="266.20" r="2.7" fill="#0066ff"/><circle cx="256.10" cy="267.10" r="2.7" fill="#0066ff"/><circle cx="259.60" cy="262.80" r="2.7" fill="#0066ff"/><circle cx="261.30" cy="267.10" r="2.7" fill="#0066ff"/><circle cx="265.60" cy="262.80" r="2.7" fill="#0066ff"/><circle cx="269.90" cy="261.90" r="2.7" fill="#0066ff"/><circle cx="280.30" cy="262.80" r="2.7" fill="#0066ff"/><circle cx="283.30" cy="263.50" r="2.7" fill="#0066ff"/><circle cx="285.50" cy="266.20" r="2.7" fill="#0066ff"/><circle cx="288.90" cy="262.80" r="2.7" fill="#0066ff"/><circle cx="289.60" cy="263.50" r="2.7" fill="#0066ff"/><circle cx="296.80" cy="263.50" r="2.7" fill="#0066ff"/><circle cx="297.70" cy="261.00" r="2.7" fill="#0066ff"/><circle cx="303.60" cy="264.50" r="2.7" fill="#0066ff"/><circle cx="305.90" cy="267.90" r="2.7" fill="#0066ff"/><circle cx="309.00" cy="262.30" r="2.7" fill="#0066ff"/>
<path d="M90.12 264.20000000000005H436.5" stroke="#30ff00" stroke-width="1.85" fill="none"/>
<path d="M90.12 263.6H436.5" stroke="#ff3300" stroke-width="1.85" fill="none"/>
<path d="M89.1 263.90 L90.1 263.90 L91.1 263.90 L92.1 263.90 L93.1 263.90 L94.1 263.90 L95.1 263.90 L96.1 263.90 L97.1 263.90 L98.1 263.90 L99.1 263.90 L100.1 263.90 L101.1 263.90 L102.1 263.90 L103.1 263.90 L104.1 263.90 L105.1 263.90 L106.1 263.90 L107.1 263.90 L108.1 263.90 L109.1 263.90 L110.1 263.90 L111.1 263.90 L112.1 263.90 L113.1 263.90 L114.1 263.90 L115.1 263.90 L116.1 263.90 L117.1 263.90 L118.1 263.90 L119.1 263.90 L120.1 263.90 L121.1 263.90 L122.1 263.90 L123.1 263.90 L124.1 263.90 L125.1 263.90 L126.1 263.90 L127.1 263.90 L128.1 263.90 L129.1 263.90 L130.1 263.90 L131.1 263.90 L132.1 263.90 L133.1 263.90 L134.1 263.90 L135.1 263.90 L136.1 263.90 L137.1 263.90 L138.1 263.90 L139.1 263.90 L140.1 263.90 L141.1 263.90 L142.1 263.90 L143.1 263.90 L144.1 263.90 L145.1 263.90 L146.1 263.90 L147.1 263.90 L148.1 263.90 L149.1 263.90 L150.1 263.90 L151.1 263.90 L152.1 263.90 L153.1 263.90 L154.1 263.90 L155.1 263.90 L156.1 263.90 L157.1 263.90 L158.1 263.90 L159.1 263.90 L160.1 263.90 L161.1 263.90 L162.1 263.90 L163.1 263.90 L164.1 263.90 L165.1 263.90 L166.1 263.90 L167.1 263.90 L168.1 263.90 L169.1 263.90 L170.1 263.90 L171.1 263.90 L172.1 263.90 L173.1 263.90 L174.1 263.90 L175.1 263.90 L176.1 263.90 L177.1 263.90 L178.1 263.90 L179.1 263.90 L180.1 263.90 L181.1 263.90 L182.1 263.90 L183.1 263.90 L184.1 263.90 L185.1 263.90 L186.1 263.90 L187.1 263.90 L188.1 263.90 L189.1 263.90 L190.1 263.90 L191.1 263.90 L192.1 263.90 L193.1 263.90 L194.1 263.90 L195.1 263.90 L196.1 263.90 L197.1 263.90 L198.1 263.90 L199.1 263.90 L200.1 263.90 L201.1 263.90 L202.1 263.90 L203.1 263.90 L204.1 263.90 L205.1 263.90 L206.1 263.90 L207.1 263.90 L208.1 263.90 L209.1 263.90 L210.1 263.90 L211.1 263.90 L212.1 263.90 L213.1 263.90 L214.1 263.90 L215.1 263.90 L216.1 263.90 L217.1 263.90 L218.1 263.90 L219.1 263.90 L220.1 263.90 L221.1 263.90 L222.1 263.90 L223.1 263.90 L224.1 263.90 L225.1 263.90 L226.1 263.90 L227.1 263.90 L228.1 263.90 L229.1 263.90 L230.1 263.90 L231.1 263.90 L232.1 263.90 L233.1 263.90 L234.1 263.90 L235.1 263.90 L236.1 263.90 L237.1 263.90 L238.1 263.90 L239.1 263.90 L240.1 263.90 L241.1 263.90 L242.1 263.90 L243.1 263.90 L244.1 263.90 L245.1 263.90 L246.1 263.90 L247.1 263.90 L248.1 263.90 L249.1 263.90 L250.1 263.90 L251.1 263.90 L252.1 263.90 L253.1 263.90 L254.1 263.90 L255.1 263.90 L256.1 263.90 L257.1 263.90 L258.1 263.90 L259.1 263.90 L260.1 263.90 L261.1 263.90 L262.1 263.90 L263.1 263.90 L264.1 263.90 L265.1 263.90 L266.1 263.90 L267.1 263.90 L268.1 263.90 L269.1 263.90 L270.1 263.90 L271.1 263.90 L272.1 263.90 L273.1 263.90 L274.1 263.90 L275.1 263.90 L276.1 263.90 L277.1 263.90 L278.1 263.90 L279.1 263.90 L280.1 263.90 L281.1 263.90 L282.1 263.90 L283.1 263.90 L284.1 263.90 L285.1 263.90 L286.1 263.90 L287.1 263.90 L288.1 263.90 L289.1 263.90 L290.1 263.90 L291.1 263.90 L292.1 263.90 L293.1 263.90 L294.1 263.90 L295.1 263.90 L296.1 263.90 L297.1 263.90 L298.1 263.90 L299.1 263.90 L300.1 263.90 L301.1 263.90 L302.1 263.90 L303.1 263.90 L304.1 263.90 L305.1 263.90 L306.1 263.90 L307.1 263.90 L308.1 263.90 L309.1 263.90 L310.1 263.90 L311.1 263.90 L312.1 263.90 L313.1 263.90 L314.1 263.90 L315.1 263.90 L316.1 263.90 L317.1 263.90 L318.1 263.90 L319.1 263.90 L320.1 263.90 L321.1 263.90 L322.1 263.90 L323.1 263.90 L324.1 263.90 L325.1 263.90 L326.1 263.90" stroke="#000" stroke-width="0.95" stroke-dasharray="4.5 3.8" fill="none"/>
<path d="M327.1 264.47 L328.1 265.03 L329.1 265.60 L330.1 266.14 L331.1 266.47 L332.1 266.81 L333.1 267.11 L334.1 267.18 L335.1 267.25 L336.1 267.32 L337.1 267.39 L338.1 267.47 L339.1 267.54 L340.1 267.60 L341.1 267.62 L342.1 267.64 L343.1 267.66 L344.1 267.68 L345.1 267.70 L346.1 267.72 L347.1 267.74 L348.1 267.76 L349.1 267.78 L350.1 267.80 L351.1 267.82 L352.1 267.84 L353.1 267.86 L354.1 267.88 L355.1 267.90 L356.1 267.92 L357.1 267.94 L358.1 267.96 L359.1 267.98 L360.1 268.00 L361.1 268.00 L362.1 268.01 L363.1 268.01 L364.1 268.01 L365.1 268.01 L366.1 268.02 L367.1 268.02 L368.1 268.02 L369.1 268.02 L370.1 268.03 L371.1 268.03 L372.1 268.03 L373.1 268.03 L374.1 268.04 L375.1 268.04 L376.1 268.04 L377.1 268.04 L378.1 268.05 L379.1 268.05 L380.1 268.05 L381.1 268.05 L382.1 268.06 L383.1 268.06 L384.1 268.06 L385.1 268.07 L386.1 268.07 L387.1 268.07 L388.1 268.07 L389.1 268.08 L390.1 268.08 L391.1 268.08 L392.1 268.08 L393.1 268.09 L394.1 268.09 L395.1 268.09 L396.1 268.09 L397.1 268.10 L398.1 268.10 L399.1 268.10 L400.1 268.10 L401.1 268.11 L402.1 268.11 L403.1 268.11 L404.1 268.11 L405.1 268.12 L406.1 268.12 L407.1 268.12 L408.1 268.12 L409.1 268.13 L410.1 268.13 L411.1 268.13 L412.1 268.14 L413.1 268.14 L414.1 268.14 L415.1 268.14 L416.1 268.15 L417.1 268.15 L418.1 268.15 L419.1 268.15 L420.1 268.16 L421.1 268.16 L422.1 268.16 L423.1 268.16 L424.1 268.17 L425.1 268.17 L426.1 268.17 L427.1 268.17 L428.1 268.18 L429.1 268.18 L430.1 268.18 L431.1 268.18 L432.1 268.19 L433.1 268.19 L434.1 268.19 L435.1 268.20 L436.1 268.20 L437.1 268.20" stroke="#000" stroke-width="1.3" stroke-dasharray="4.5 3.8" fill="none"/>
</g>
<path d="M90.12 27.45H436.5V289.45H90.12ZM97.73 289.45v-3.2M97.73 27.45v3.2M109.50 289.45v-5.3M109.50 27.45v5.3M121.27 289.45v-3.2M121.27 27.45v3.2M133.04 289.45v-3.2M133.04 27.45v3.2M144.81 289.45v-3.2M144.81 27.45v3.2M156.58 289.45v-5.3M156.58 27.45v5.3M168.35 289.45v-3.2M168.35 27.45v3.2M180.12 289.45v-3.2M180.12 27.45v3.2M191.89 289.45v-3.2M191.89 27.45v3.2M203.66 289.45v-5.3M203.66 27.45v5.3M215.43 289.45v-3.2M215.43 27.45v3.2M227.20 289.45v-3.2M227.20 27.45v3.2M238.97 289.45v-3.2M238.97 27.45v3.2M250.74 289.45v-5.3M250.74 27.45v5.3M262.51 289.45v-3.2M262.51 27.45v3.2M274.28 289.45v-3.2M274.28 27.45v3.2M286.05 289.45v-3.2M286.05 27.45v3.2M297.82 289.45v-5.3M297.82 27.45v5.3M309.59 289.45v-3.2M309.59 27.45v3.2M321.36 289.45v-3.2M321.36 27.45v3.2M333.13 289.45v-3.2M333.13 27.45v3.2M344.90 289.45v-5.3M344.90 27.45v5.3M356.67 289.45v-3.2M356.67 27.45v3.2M368.44 289.45v-3.2M368.44 27.45v3.2M380.21 289.45v-3.2M380.21 27.45v3.2M391.98 289.45v-5.3M391.98 27.45v5.3M403.75 289.45v-3.2M403.75 27.45v3.2M415.52 289.45v-3.2M415.52 27.45v3.2M427.29 289.45v-3.2M427.29 27.45v3.2M90.12 28.01h3.6M436.5 28.01h-3.6M90.12 33.36h3.6M436.5 33.36h-3.6M90.12 38.70h3.6M436.5 38.70h-3.6M90.12 44.04h3.6M436.5 44.04h-3.6M90.12 49.38h3.6M436.5 49.38h-3.6M90.12 54.73h3.6M436.5 54.73h-3.6M90.12 60.07h3.6M436.5 60.07h-3.6M90.12 65.41h3.6M436.5 65.41h-3.6M90.12 70.76h3.6M436.5 70.76h-3.6M90.12 76.10h6.7M436.5 76.10h-6.7M90.12 81.44h3.6M436.5 81.44h-3.6M90.12 86.79h3.6M436.5 86.79h-3.6M90.12 92.13h3.6M436.5 92.13h-3.6M90.12 97.47h3.6M436.5 97.47h-3.6M90.12 102.81h3.6M436.5 102.81h-3.6M90.12 108.16h3.6M436.5 108.16h-3.6M90.12 113.50h3.6M436.5 113.50h-3.6M90.12 118.84h3.6M436.5 118.84h-3.6M90.12 124.19h3.6M436.5 124.19h-3.6M90.12 129.53h6.7M436.5 129.53h-6.7M90.12 134.87h3.6M436.5 134.87h-3.6M90.12 140.22h3.6M436.5 140.22h-3.6M90.12 145.56h3.6M436.5 145.56h-3.6M90.12 150.90h3.6M436.5 150.90h-3.6M90.12 156.25h3.6M436.5 156.25h-3.6M90.12 161.59h3.6M436.5 161.59h-3.6M90.12 166.93h3.6M436.5 166.93h-3.6M90.12 172.27h3.6M436.5 172.27h-3.6M90.12 177.62h3.6M436.5 177.62h-3.6M90.12 182.96h6.7M436.5 182.96h-6.7M90.12 188.30h3.6M436.5 188.30h-3.6M90.12 193.65h3.6M436.5 193.65h-3.6M90.12 198.99h3.6M436.5 198.99h-3.6M90.12 204.33h3.6M436.5 204.33h-3.6M90.12 209.67h3.6M436.5 209.67h-3.6M90.12 215.02h3.6M436.5 215.02h-3.6M90.12 220.36h3.6M436.5 220.36h-3.6M90.12 225.70h3.6M436.5 225.70h-3.6M90.12 231.05h3.6M436.5 231.05h-3.6M90.12 236.39h6.7M436.5 236.39h-6.7M90.12 241.73h3.6M436.5 241.73h-3.6M90.12 247.08h3.6M436.5 247.08h-3.6M90.12 252.42h3.6M436.5 252.42h-3.6M90.12 257.76h3.6M436.5 257.76h-3.6M90.12 263.11h3.6M436.5 263.11h-3.6M90.12 268.45h3.6M436.5 268.45h-3.6M90.12 273.79h3.6M436.5 273.79h-3.6M90.12 279.13h3.6M436.5 279.13h-3.6M90.12 284.48h3.6M436.5 284.48h-3.6" stroke="#505050" stroke-width="0.78" fill="none"/>
<g stroke="#484848" stroke-width="0.75" fill="none" stroke-linecap="butt" stroke-linejoin="round"><path transform="translate(191.30 19.40)" d="M5.54 -12.91 L4.30 -12.30 L3.08 -11.07 L2.46 -9.84 L1.84 -8.00 L1.84 -4.92 L2.46 -3.08 L3.08 -1.84 L4.30 -0.61 L5.54 0.00 L8.00 0.00 L9.22 -0.61 L10.46 -1.84 L11.07 -3.08 L11.69 -4.92 L11.69 -8.00 L11.07 -9.84 L10.46 -11.07 L9.22 -12.30 L8.00 -12.91 L5.54 -12.91 M24.60 -9.84 L23.98 -11.07 L22.75 -12.30 L21.52 -12.91 L19.06 -12.91 L17.84 -12.30 L16.61 -11.07 L15.99 -9.84 L15.38 -8.00 L15.38 -4.92 L15.99 -3.08 L16.61 -1.84 L17.84 -0.61 L19.06 0.00 L21.52 0.00 L22.75 -0.61 L23.98 -1.84 L24.60 -3.08 L24.60 -4.92 M21.52 -4.92 L24.60 -4.92 M28.91 -12.91 L28.91 0.00 M28.91 0.00 L36.28 0.00 M39.36 -12.91 L39.36 0.00 M39.36 -12.91 L47.35 -12.91 M39.36 -6.76 L44.28 -6.76 M39.36 0.00 L47.35 0.00 M51.05 -5.54 L60.89 -5.54 M73.80 -11.07 L72.57 -12.30 L70.72 -12.91 L68.27 -12.91 L66.42 -12.30 L65.19 -11.07 L65.19 -9.84 L65.80 -8.61 L66.42 -8.00 L67.65 -7.38 L71.34 -6.15 L72.57 -5.54 L73.19 -4.92 L73.80 -3.69 L73.80 -1.84 L72.57 -0.61 L70.72 0.00 L68.27 0.00 L66.42 -0.61 L65.19 -1.84 M78.10 -12.91 L78.10 0.00 M78.10 -12.91 L83.02 0.00 M87.94 -12.91 L83.02 0.00 M87.94 -12.91 L87.94 0.00 M101.47 -9.84 L100.86 -11.07 L99.63 -12.30 L98.40 -12.91 L95.94 -12.91 L94.71 -12.30 L93.48 -11.07 L92.86 -9.84 L92.25 -8.00 L92.25 -4.92 L92.86 -3.08 L93.48 -1.84 L94.71 -0.61 L95.94 0.00 L98.40 0.00 L99.63 -0.61 L100.86 -1.84 L101.47 -3.08 M105.78 -5.54 L115.62 -5.54 M123.61 -12.91 L121.77 -12.30 L120.54 -10.46 L119.92 -7.38 L119.92 -5.54 L120.54 -2.46 L121.77 -0.61 L123.61 0.00 L124.84 0.00 L126.69 -0.61 L127.92 -2.46 L128.53 -5.54 L128.53 -7.38 L127.92 -10.46 L126.69 -12.30 L124.84 -12.91 L123.61 -12.91 M133.45 -12.91 L140.22 -12.91 L136.53 -8.00 L138.38 -8.00 L139.60 -7.38 L140.22 -6.76 L140.84 -4.92 L140.84 -3.69 L140.22 -1.84 L138.99 -0.61 L137.14 0.00 L135.30 0.00 L133.45 -0.61 L132.84 -1.23 L132.22 -2.46"/><path transform="translate(108.70 311.35)" d="M-12.96 -9.55 L-17.76 -3.19 L-10.56 -3.19 M-12.96 -9.55 L-12.96 0.00 M-3.36 -9.55 L-8.16 -3.19 L-0.96 -3.19 M-3.36 -9.55 L-3.36 0.00 M4.32 -9.55 L2.88 -9.10 L1.92 -7.74 L1.44 -5.46 L1.44 -4.09 L1.92 -1.82 L2.88 -0.46 L4.32 0.00 L5.28 0.00 L6.72 -0.46 L7.68 -1.82 L8.16 -4.09 L8.16 -5.46 L7.68 -7.74 L6.72 -9.10 L5.28 -9.55 L4.32 -9.55 M13.92 -9.55 L12.48 -9.10 L11.52 -7.74 L11.04 -5.46 L11.04 -4.09 L11.52 -1.82 L12.48 -0.46 L13.92 0.00 L14.88 0.00 L16.32 -0.46 L17.28 -1.82 L17.76 -4.09 L17.76 -5.46 L17.28 -7.74 L16.32 -9.10 L14.88 -9.55 L13.92 -9.55"/><path transform="translate(155.78 311.35)" d="M-12.96 -9.55 L-17.76 -3.19 L-10.56 -3.19 M-12.96 -9.55 L-12.96 0.00 M-3.36 -9.55 L-8.16 -3.19 L-0.96 -3.19 M-3.36 -9.55 L-3.36 0.00 M1.92 -7.28 L1.92 -7.74 L2.40 -8.64 L2.88 -9.10 L3.84 -9.55 L5.76 -9.55 L6.72 -9.10 L7.20 -8.64 L7.68 -7.74 L7.68 -6.83 L7.20 -5.92 L6.24 -4.55 L1.44 0.00 L8.16 0.00 M13.92 -9.55 L12.48 -9.10 L11.52 -7.74 L11.04 -5.46 L11.04 -4.09 L11.52 -1.82 L12.48 -0.46 L13.92 0.00 L14.88 0.00 L16.32 -0.46 L17.28 -1.82 L17.76 -4.09 L17.76 -5.46 L17.28 -7.74 L16.32 -9.10 L14.88 -9.55 L13.92 -9.55"/><path transform="translate(202.86 311.35)" d="M-12.96 -9.55 L-17.76 -3.19 L-10.56 -3.19 M-12.96 -9.55 L-12.96 0.00 M-3.36 -9.55 L-8.16 -3.19 L-0.96 -3.19 M-3.36 -9.55 L-3.36 0.00 M6.24 -9.55 L1.44 -3.19 L8.64 -3.19 M6.24 -9.55 L6.24 0.00 M13.92 -9.55 L12.48 -9.10 L11.52 -7.74 L11.04 -5.46 L11.04 -4.09 L11.52 -1.82 L12.48 -0.46 L13.92 0.00 L14.88 0.00 L16.32 -0.46 L17.28 -1.82 L17.76 -4.09 L17.76 -5.46 L17.28 -7.74 L16.32 -9.10 L14.88 -9.55 L13.92 -9.55"/><path transform="translate(249.94 311.35)" d="M-12.96 -9.55 L-17.76 -3.19 L-10.56 -3.19 M-12.96 -9.55 L-12.96 0.00 M-3.36 -9.55 L-8.16 -3.19 L-0.96 -3.19 M-3.36 -9.55 L-3.36 0.00 M7.68 -8.19 L7.20 -9.10 L5.76 -9.55 L4.80 -9.55 L3.36 -9.10 L2.40 -7.74 L1.92 -5.46 L1.92 -3.19 L2.40 -1.36 L3.36 -0.46 L4.80 0.00 L5.28 0.00 L6.72 -0.46 L7.68 -1.36 L8.16 -2.73 L8.16 -3.19 L7.68 -4.55 L6.72 -5.46 L5.28 -5.92 L4.80 -5.92 L3.36 -5.46 L2.40 -4.55 L1.92 -3.19 M13.92 -9.55 L12.48 -9.10 L11.52 -7.74 L11.04 -5.46 L11.04 -4.09 L11.52 -1.82 L12.48 -0.46 L13.92 0.00 L14.88 0.00 L16.32 -0.46 L17.28 -1.82 L17.76 -4.09 L17.76 -5.46 L17.28 -7.74 L16.32 -9.10 L14.88 -9.55 L13.92 -9.55"/><path transform="translate(297.02 311.35)" d="M-12.96 -9.55 L-17.76 -3.19 L-10.56 -3.19 M-12.96 -9.55 L-12.96 0.00 M-3.36 -9.55 L-8.16 -3.19 L-0.96 -3.19 M-3.36 -9.55 L-3.36 0.00 M3.84 -9.55 L2.40 -9.10 L1.92 -8.19 L1.92 -7.28 L2.40 -6.37 L3.36 -5.92 L5.28 -5.46 L6.72 -5.00 L7.68 -4.09 L8.16 -3.19 L8.16 -1.82 L7.68 -0.91 L7.20 -0.46 L5.76 0.00 L3.84 0.00 L2.40 -0.46 L1.92 -0.91 L1.44 -1.82 L1.44 -3.19 L1.92 -4.09 L2.88 -5.00 L4.32 -5.46 L6.24 -5.92 L7.20 -6.37 L7.68 -7.28 L7.68 -8.19 L7.20 -9.10 L5.76 -9.55 L3.84 -9.55 M13.92 -9.55 L12.48 -9.10 L11.52 -7.74 L11.04 -5.46 L11.04 -4.09 L11.52 -1.82 L12.48 -0.46 L13.92 0.00 L14.88 0.00 L16.32 -0.46 L17.28 -1.82 L17.76 -4.09 L17.76 -5.46 L17.28 -7.74 L16.32 -9.10 L14.88 -9.55 L13.92 -9.55"/><path transform="translate(344.10 311.35)" d="M-12.96 -9.55 L-17.76 -3.19 L-10.56 -3.19 M-12.96 -9.55 L-12.96 0.00 M-2.40 -9.55 L-7.20 -9.55 L-7.68 -5.46 L-7.20 -5.92 L-5.76 -6.37 L-4.32 -6.37 L-2.88 -5.92 L-1.92 -5.00 L-1.44 -3.64 L-1.44 -2.73 L-1.92 -1.36 L-2.88 -0.46 L-4.32 0.00 L-5.76 0.00 L-7.20 -0.46 L-7.68 -0.91 L-8.16 -1.82 M4.32 -9.55 L2.88 -9.10 L1.92 -7.74 L1.44 -5.46 L1.44 -4.09 L1.92 -1.82 L2.88 -0.46 L4.32 0.00 L5.28 0.00 L6.72 -0.46 L7.68 -1.82 L8.16 -4.09 L8.16 -5.46 L7.68 -7.74 L6.72 -9.10 L5.28 -9.55 L4.32 -9.55 M13.92 -9.55 L12.48 -9.10 L11.52 -7.74 L11.04 -5.46 L11.04 -4.09 L11.52 -1.82 L12.48 -0.46 L13.92 0.00 L14.88 0.00 L16.32 -0.46 L17.28 -1.82 L17.76 -4.09 L17.76 -5.46 L17.28 -7.74 L16.32 -9.10 L14.88 -9.55 L13.92 -9.55"/><path transform="translate(391.18 311.35)" d="M-12.96 -9.55 L-17.76 -3.19 L-10.56 -3.19 M-12.96 -9.55 L-12.96 0.00 M-2.40 -9.55 L-7.20 -9.55 L-7.68 -5.46 L-7.20 -5.92 L-5.76 -6.37 L-4.32 -6.37 L-2.88 -5.92 L-1.92 -5.00 L-1.44 -3.64 L-1.44 -2.73 L-1.92 -1.36 L-2.88 -0.46 L-4.32 0.00 L-5.76 0.00 L-7.20 -0.46 L-7.68 -0.91 L-8.16 -1.82 M1.92 -7.28 L1.92 -7.74 L2.40 -8.64 L2.88 -9.10 L3.84 -9.55 L5.76 -9.55 L6.72 -9.10 L7.20 -8.64 L7.68 -7.74 L7.68 -6.83 L7.20 -5.92 L6.24 -4.55 L1.44 0.00 L8.16 0.00 M13.92 -9.55 L12.48 -9.10 L11.52 -7.74 L11.04 -5.46 L11.04 -4.09 L11.52 -1.82 L12.48 -0.46 L13.92 0.00 L14.88 0.00 L16.32 -0.46 L17.28 -1.82 L17.76 -4.09 L17.76 -5.46 L17.28 -7.74 L16.32 -9.10 L14.88 -9.55 L13.92 -9.55"/><path transform="translate(263.00 329.60)" d="M-58.80 -9.55 L-58.80 0.00 M-52.08 -9.55 L-52.08 0.00 M-58.80 -5.00 L-52.08 -5.00 M-44.40 -9.55 L-44.40 -2.27 L-44.88 -0.91 L-45.36 -0.46 L-46.32 0.00 L-47.28 0.00 L-48.24 -0.46 L-48.72 -0.91 L-49.20 -2.27 L-49.20 -3.19 M-40.56 -9.55 L-40.56 0.00 M-40.56 -9.55 L-37.20 -9.55 L-35.76 -9.10 L-34.80 -8.19 L-34.32 -7.28 L-33.84 -5.92 L-33.84 -3.64 L-34.32 -2.27 L-34.80 -1.36 L-35.76 -0.46 L-37.20 0.00 L-40.56 0.00 M-30.48 -4.09 L-22.80 -4.09 M-18.96 -7.28 L-18.96 -7.74 L-18.48 -8.64 L-18.00 -9.10 L-17.04 -9.55 L-15.12 -9.55 L-14.16 -9.10 L-13.68 -8.64 L-13.20 -7.74 L-13.20 -6.83 L-13.68 -5.92 L-14.64 -4.55 L-19.44 0.00 L-12.72 0.00 M-5.04 -9.55 L-9.84 -3.19 L-2.64 -3.19 M-5.04 -9.55 L-5.04 0.00 M5.52 -9.55 L0.72 -9.55 L0.24 -5.46 L0.72 -5.92 L2.16 -6.37 L3.60 -6.37 L5.04 -5.92 L6.00 -5.00 L6.48 -3.64 L6.48 -2.73 L6.00 -1.36 L5.04 -0.46 L3.60 0.00 L2.16 0.00 L0.72 -0.46 L0.24 -0.91 L-0.24 -1.82 M12.24 -9.55 L10.80 -9.10 L9.84 -7.74 L9.36 -5.46 L9.36 -4.09 L9.84 -1.82 L10.80 -0.46 L12.24 0.00 L13.20 0.00 L14.64 -0.46 L15.60 -1.82 L16.08 -4.09 L16.08 -5.46 L15.60 -7.74 L14.64 -9.10 L13.20 -9.55 L12.24 -9.55 M21.84 -9.55 L20.40 -9.10 L19.44 -7.74 L18.96 -5.46 L18.96 -4.09 L19.44 -1.82 L20.40 -0.46 L21.84 0.00 L22.80 0.00 L24.24 -0.46 L25.20 -1.82 L25.68 -4.09 L25.68 -5.46 L25.20 -7.74 L24.24 -9.10 L22.80 -9.55 L21.84 -9.55 M31.44 -9.55 L30.00 -9.10 L29.04 -7.74 L28.56 -5.46 L28.56 -4.09 L29.04 -1.82 L30.00 -0.46 L31.44 0.00 L32.40 0.00 L33.84 -0.46 L34.80 -1.82 L35.28 -4.09 L35.28 -5.46 L34.80 -7.74 L33.84 -9.10 L32.40 -9.55 L31.44 -9.55 M41.04 -9.55 L39.60 -9.10 L38.64 -7.74 L38.16 -5.46 L38.16 -4.09 L38.64 -1.82 L39.60 -0.46 L41.04 0.00 L42.00 0.00 L43.44 -0.46 L44.40 -1.82 L44.88 -4.09 L44.88 -5.46 L44.40 -7.74 L43.44 -9.10 L42.00 -9.55 L41.04 -9.55 M48.72 -0.91 L48.24 -0.46 L48.72 0.00 L49.20 -0.46 L48.72 -0.91 M55.44 -9.55 L54.00 -9.10 L53.04 -7.74 L52.56 -5.46 L52.56 -4.09 L53.04 -1.82 L54.00 -0.46 L55.44 0.00 L56.40 0.00 L57.84 -0.46 L58.80 -1.82 L59.28 -4.09 L59.28 -5.46 L58.80 -7.74 L57.84 -9.10 L56.40 -9.55 L55.44 -9.55"/><path transform="translate(85.40 81.65)" d="M-16.32 -7.74 L-15.36 -8.19 L-13.92 -9.55 L-13.92 0.00 M-1.92 -6.37 L-2.40 -5.00 L-3.36 -4.09 L-4.80 -3.64 L-5.28 -3.64 L-6.72 -4.09 L-7.68 -5.00 L-8.16 -6.37 L-8.16 -6.83 L-7.68 -8.19 L-6.72 -9.10 L-5.28 -9.55 L-4.80 -9.55 L-3.36 -9.10 L-2.40 -8.19 L-1.92 -6.37 L-1.92 -4.09 L-2.40 -1.82 L-3.36 -0.46 L-4.80 0.00 L-5.76 0.00 L-7.20 -0.46 L-7.68 -1.36"/><path transform="translate(85.40 135.08)" d="M-17.28 -7.28 L-17.28 -7.74 L-16.80 -8.64 L-16.32 -9.10 L-15.36 -9.55 L-13.44 -9.55 L-12.48 -9.10 L-12.00 -8.64 L-11.52 -7.74 L-11.52 -6.83 L-12.00 -5.92 L-12.96 -4.55 L-17.76 0.00 L-11.04 0.00 M-5.28 -9.55 L-6.72 -9.10 L-7.68 -7.74 L-8.16 -5.46 L-8.16 -4.09 L-7.68 -1.82 L-6.72 -0.46 L-5.28 0.00 L-4.32 0.00 L-2.88 -0.46 L-1.92 -1.82 L-1.44 -4.09 L-1.44 -5.46 L-1.92 -7.74 L-2.88 -9.10 L-4.32 -9.55 L-5.28 -9.55"/><path transform="translate(85.40 188.51)" d="M-17.28 -7.28 L-17.28 -7.74 L-16.80 -8.64 L-16.32 -9.10 L-15.36 -9.55 L-13.44 -9.55 L-12.48 -9.10 L-12.00 -8.64 L-11.52 -7.74 L-11.52 -6.83 L-12.00 -5.92 L-12.96 -4.55 L-17.76 0.00 L-11.04 0.00 M-6.72 -7.74 L-5.76 -8.19 L-4.32 -9.55 L-4.32 0.00"/><path transform="translate(85.40 241.94)" d="M-17.28 -7.28 L-17.28 -7.74 L-16.80 -8.64 L-16.32 -9.10 L-15.36 -9.55 L-13.44 -9.55 L-12.48 -9.10 L-12.00 -8.64 L-11.52 -7.74 L-11.52 -6.83 L-12.00 -5.92 L-12.96 -4.55 L-17.76 0.00 L-11.04 0.00 M-7.68 -7.28 L-7.68 -7.74 L-7.20 -8.64 L-6.72 -9.10 L-5.76 -9.55 L-3.84 -9.55 L-2.88 -9.10 L-2.40 -8.64 L-1.92 -7.74 L-1.92 -6.83 L-2.40 -5.92 L-3.36 -4.55 L-8.16 0.00 L-1.44 0.00"/><path transform="translate(53.5 159.8) rotate(-90)" d="M-36.24 -6.37 L-36.24 0.00 M-36.24 -4.55 L-34.80 -5.92 L-33.84 -6.37 L-32.40 -6.37 L-31.44 -5.92 L-30.96 -4.55 L-30.96 0.00 M-30.96 -4.55 L-29.52 -5.92 L-28.56 -6.37 L-27.12 -6.37 L-26.16 -5.92 L-25.68 -4.55 L-25.68 0.00 M-18.00 -6.37 L-18.00 0.00 M-18.00 -5.00 L-18.96 -5.92 L-19.92 -6.37 L-21.36 -6.37 L-22.32 -5.92 L-23.28 -5.00 L-23.76 -3.64 L-23.76 -2.73 L-23.28 -1.36 L-22.32 -0.46 L-21.36 0.00 L-19.92 0.00 L-18.96 -0.46 L-18.00 -1.36 M-8.88 -6.37 L-8.88 0.91 L-9.36 2.27 L-9.84 2.73 L-10.80 3.19 L-12.24 3.19 L-13.20 2.73 M-8.88 -5.00 L-9.84 -5.92 L-10.80 -6.37 L-12.24 -6.37 L-13.20 -5.92 L-14.16 -5.00 L-14.64 -3.64 L-14.64 -2.73 L-14.16 -1.36 L-13.20 -0.46 L-12.24 0.00 L-10.80 0.00 L-9.84 -0.46 L-8.88 -1.36 M-5.04 -6.37 L-5.04 0.00 M-5.04 -4.55 L-3.60 -5.92 L-2.64 -6.37 L-1.20 -6.37 L-0.24 -5.92 L0.24 -4.55 L0.24 0.00 M3.60 -9.55 L4.08 -9.10 L4.56 -9.55 L4.08 -10.01 L3.60 -9.55 M4.08 -6.37 L4.08 0.00 M8.40 -9.55 L8.40 -1.82 L8.88 -0.46 L9.84 0.00 L10.80 0.00 M6.96 -6.37 L10.32 -6.37 M13.68 -6.37 L13.68 -1.82 L14.16 -0.46 L15.12 0.00 L16.56 0.00 L17.52 -0.46 L18.96 -1.82 M18.96 -6.37 L18.96 0.00 M28.08 -9.55 L28.08 0.00 M28.08 -5.00 L27.12 -5.92 L26.16 -6.37 L24.72 -6.37 L23.76 -5.92 L22.80 -5.00 L22.32 -3.64 L22.32 -2.73 L22.80 -1.36 L23.76 -0.46 L24.72 0.00 L26.16 0.00 L27.12 -0.46 L28.08 -1.36 M31.44 -3.64 L37.20 -3.64 L37.20 -4.55 L36.72 -5.46 L36.24 -5.92 L35.28 -6.37 L33.84 -6.37 L32.88 -5.92 L31.92 -5.00 L31.44 -3.64 L31.44 -2.73 L31.92 -1.36 L32.88 -0.46 L33.84 0.00 L35.28 0.00 L36.24 -0.46 L37.20 -1.36"/></g>
<path transform="translate(393.6 208.2)" d="M0.39 -8.09 L3.46 0.00 M6.54 -8.09 L3.46 0.00 M10.78 -6.93 L10.78 0.00 M7.31 -3.46 L14.25 -3.46 M18.09 -8.09 L16.94 -7.70 L16.17 -6.54 L15.78 -4.62 L15.78 -3.46 L16.17 -1.54 L16.94 -0.39 L18.09 0.00 L18.86 0.00 L20.02 -0.39 L20.79 -1.54 L21.17 -3.46 L21.17 -4.62 L20.79 -6.54 L20.02 -7.70 L18.86 -8.09 L18.09 -8.09 M24.25 -0.77 L23.87 -0.39 L24.25 0.00 L24.64 -0.39 L24.25 -0.77 M31.95 -8.09 L28.11 -8.09 L27.72 -4.62 L28.11 -5.00 L29.26 -5.39 L30.41 -5.39 L31.57 -5.00 L32.34 -4.24 L32.73 -3.08 L32.73 -2.31 L32.34 -1.16 L31.57 -0.39 L30.41 0.00 L29.26 0.00 L28.11 -0.39 L27.72 -0.77 L27.34 -1.54" stroke="#30ff00" stroke-width="0.95" fill="none" stroke-linecap="butt" stroke-linejoin="round"/>
</svg>
</body></html>
